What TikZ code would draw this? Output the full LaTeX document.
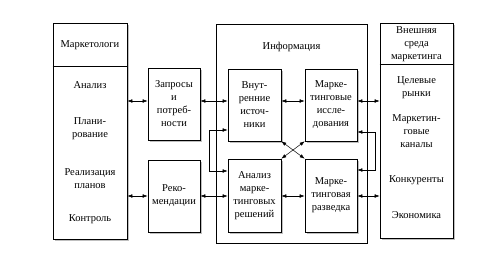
\documentclass[tikz,border=0pt]{standalone}
\usepackage{fontspec}
\setmainfont{Liberation Serif}
\usetikzlibrary{arrows.meta,shadows,calc}
\begin{document}
\begin{tikzpicture}[x=1pt,y=-1pt,
  lbl/.style={align=center, inner sep=0pt, font=\fontsize{10.5}{13}\selectfont},
  box/.style={draw, fill=white, line width=0.6pt, inner sep=0pt, align=center,
    font=\fontsize{10.5}{13}\selectfont,
    drop shadow={shadow xshift=1.8pt, shadow yshift=-1.8pt, fill=gray!50, opacity=1}},
  frame/.style={draw, line width=0.6pt, inner sep=0pt},
  dbl/.style={line width=0.5pt, {Latex[length=5pt,width=3.6pt]}-{Latex[length=5pt,width=3.6pt]}}]
\useasboundingbox (0,0) rectangle (500,257);
% outer boxes
\node[box, minimum width=74pt, minimum height=216pt] (lb) at (90,131) {};
\node[frame, minimum width=151pt, minimum height=219pt] (ib) at (291.5,133.5) {};
\node[box, minimum width=73pt, minimum height=215pt] (rb) at (416.5,130.5) {};
\coordinate (d1) at (0,66);
\coordinate (d2) at (0,64);
\draw[line width=0.6pt] (lb.west |- d1) -- (lb.east |- d1);
\draw[line width=0.6pt] (rb.west |- d2) -- (rb.east |- d2);
% inner boxes
\node[box, minimum width=52pt, minimum height=72pt] (q) at (174,104) {Запросы\\и\\потреб-\\ности};
\node[box, minimum width=52pt, minimum height=72pt] (rk) at (174,196) {Реко-\\мендации};
\node[box, minimum width=53pt, minimum height=72pt] (vn) at (254.5,105) {Внут-\\ренние\\источ-\\ники};
\node[box, minimum width=52pt, minimum height=72pt] (mi) at (331,105) {Марке-\\тинговые\\иссле-\\дования};
\node[box, minimum width=53pt, minimum height=73pt] (an) at (254.5,195.5) {Анализ\\марке-\\тинговых\\решений};
\node[box, minimum width=52pt, minimum height=73pt] (mr) at (331,195.5) {Марке-\\тинговая\\разведка};
% labels
\node[lbl] (t1) at (90,45) {Маркетологи};
\node[lbl] (t2) at (90,85) {Анализ};
\node[lbl] (t3) at (90,128.5) {Плани-\\рование};
\node[lbl] (t4) at (90,178.5) {Реализация\\планов};
\node[lbl] (t5) at (90,219) {Контроль};
\node[lbl] (t6) at (291.5,47) {Информация};
\node[lbl] (t7) at (416.5,44) {Внешняя\\среда\\маркетинга};
\node[lbl] (t8) at (416.5,87.5) {Целевые\\рынки};
\node[lbl] (t9) at (416.5,131) {Маркетин-\\говые\\каналы};
\node[lbl] (t10) at (416.5,180) {Конкуренты};
\node[lbl] (t11) at (416.5,215) {Экономика};
% connectors
\coordinate (r1) at (0,101);
\coordinate (r2) at (0,196);
\draw[dbl] (lb.east |- r1) -- (q.west |- r1);
\draw[dbl] (lb.east |- r2) -- (rk.west |- r2);
\draw[dbl] (q.east |- r1) -- (vn.west |- r1);
\draw[dbl] (rk.east |- r2) -- (an.west |- r2);
\draw[dbl] (vn.east |- r1) -- (mi.west |- r1);
\draw[dbl] (an.east |- r2) -- (mr.west |- r2);
\draw[dbl] (mi.east |- r1) -- (rb.west |- r1);
\draw[dbl] (mr.east |- r2) -- (rb.west |- r2);
\coordinate (b1) at (209,130);
\coordinate (b2) at (209,171);
\draw[dbl] (vn.west |- b1) -- (b1) -- (b2) -- (an.west |- b2);
\coordinate (b3) at (375,132);
\coordinate (b4) at (375,170);
\draw[dbl] (mi.east |- b3) -- (b3) -- (b4) -- (mr.east |- b4);
\draw[dbl] (vn.south east) -- (mr.north west);
\draw[dbl] (mi.south west) -- (an.north east);
\end{tikzpicture}
\end{document}
